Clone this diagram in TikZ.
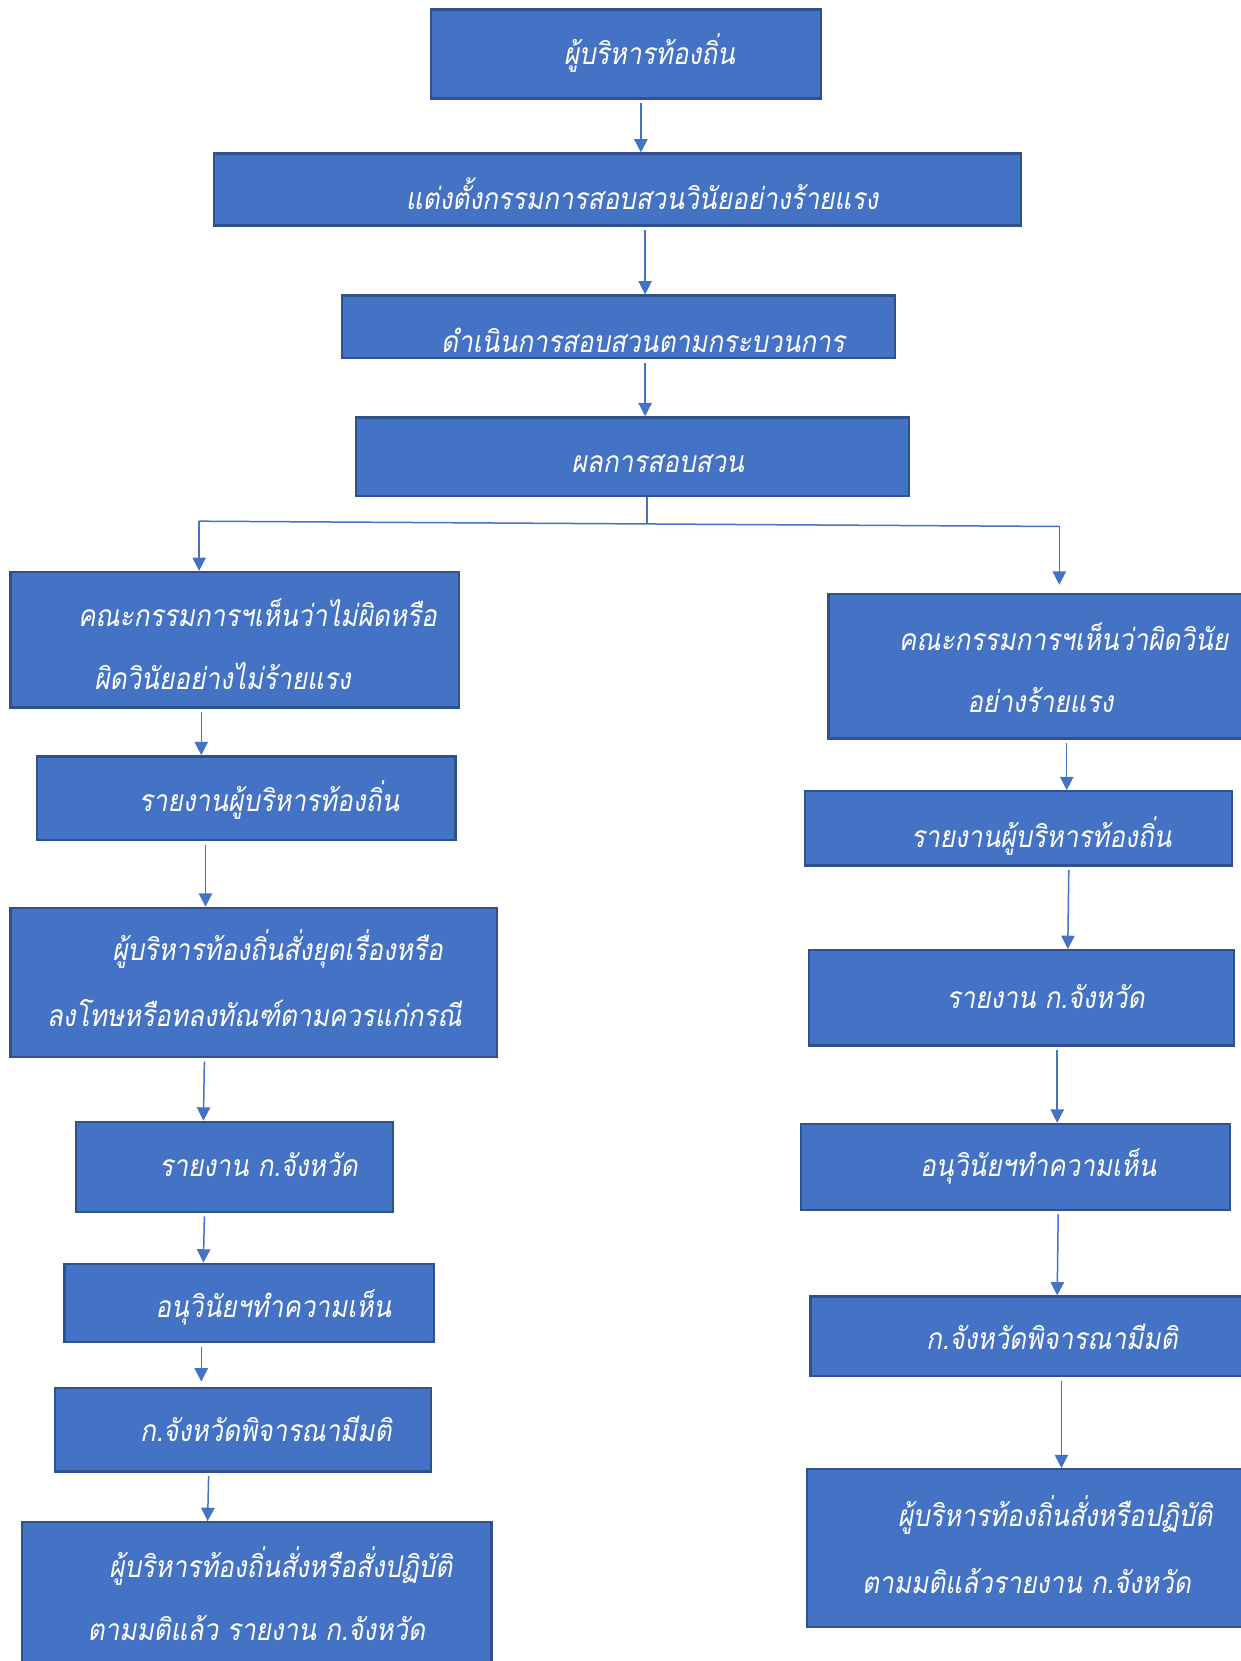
\documentclass[tikz,border=0pt]{standalone}
\usepackage{fontspec}
\newfontfamily\thaifont[Script=Thai,FakeSlant=0.18,FakeStretch=0.87]{Loma}
\usepackage{tikz}
\usetikzlibrary{arrows.meta}
\definecolor{boxfill}{HTML}{4472C4}
\definecolor{boxline}{HTML}{2F528F}

\begin{document}
\begin{tikzpicture}
[
                     x =  0.6353pt,
                     y = -0.6353pt,
     box/.style 2 args = { draw=boxline, fill=boxfill, line width=1.4pt, inner sep=0pt,
                           minimum width=#1*0.6353pt, minimum height=#2*0.6353pt },
               txt/.style = { text=white, anchor=base, inner sep=0pt,
                              font=\thaifont\fontsize{18}{22}\selectfont },
               arr/.style = { draw=boxfill, line width=0.9pt, -{Triangle[width=8pt,length=8pt]}, shorten <=2pt },
               lin/.style = { draw=boxfill, line width=0.9pt }
]

	\useasboundingbox (0,0) rectangle (1171,1568);

	% main column
	\node  (1) at (591  ,   51  ) [box={368}{84}]  {};	\node  (1l) at (613,   61) [txt] {ผู้บริหารท้องถิ่น};
	\node  (2) at (583  ,  179  ) [box={762}{68}]  {};	\node  (2l) at (606,  198) [txt] {แต่งตั้งกรรมการสอบสวนวินัยอย่างร้ายแรง};
	\node  (3) at (584  ,  308.5) [box={522}{59}]  {};	\node  (3l) at (607,  333) [txt] {ดำเนินการสอบสวนตามกระบวนการ};
	\node  (4) at (597  ,  431  ) [box={522}{74}]  {};	\node  (4l) at (621,  446) [txt] {ผลการสอบสวน};

	% left column
	\node  (5) at (221.5,  604  ) [box={423}{128}] {};	\node  (5l) at (243,  591) [txt] {คณะกรรมการฯเห็นว่าไม่ผิดหรือ};
	                                                  	\node (5l2) at (210,  651) [txt] {ผิดวินัยอย่างไม่ร้ายแรง};
	\node  (6) at (232.5,  753.5) [box={395}{79}]  {};	\node  (6l) at (254,  766) [txt] {รายงานผู้บริหารท้องถิ่น};
	\node  (7) at (239.5,  927.5) [box={459}{141}] {};	\node  (7l) at (262,  907) [txt] {ผู้บริหารท้องถิ่นสั่งยุตเรื่องหรือ};
	                                                  	\node (7l2) at (240,  969) [txt] {ลงโทษหรือทลงทัณฑ์ตามควรแก่กรณี};
	\node  (8) at (221.5, 1101.5) [box={299}{85}]  {};	\node  (8l) at (244, 1111) [txt] {รายงาน ก.จังหวัด};
	\node  (9) at (235.5, 1230  ) [box={349}{74}]  {};	\node  (9l) at (258, 1244) [txt] {อนุวินัยฯทำความเห็น};
	\node (10) at (229.5, 1349.5) [box={355}{79}]  {};	\node (10l) at (251, 1361) [txt] {ก.จังหวัดพิจารณามีมติ};
	\node (11) at (242.5, 1508.5) [box={443}{143}] {};	\node (11l) at (265, 1489) [txt] {ผู้บริหารท้องถิ่นสั่งหรือสั่งปฏิบัติ};
	                                                  	\node(11l2) at (242, 1549) [txt] {ตามมติแล้ว รายงาน ก.จังหวัด};

	% right column
	\node (12) at (981  ,  629  ) [box={398}{136}] {};	\node (12l) at (1004, 614) [txt] {คณะกรรมการฯเห็นว่าผิดวินัย};
	                                                  	\node(12l2) at (982,  673) [txt] {อย่างร้ายแรง};
	\node (13) at (961.5,  782  ) [box={403}{70}]  {};	\node (13l) at (983,  800) [txt] {รายงานผู้บริหารท้องถิ่น};
	\node (14) at (964.5,  942  ) [box={401}{90}]  {};	\node (14l) at (987,  952) [txt] {รายงาน ก.จังหวัด};
	\node (15) at (958.5, 1101.5) [box={405}{81}]  {};	\node (15l) at (980, 1111) [txt] {อนุวินัยฯทำความเห็น};
	\node (16) at (972.5, 1261.5) [box={415}{75}]  {};	\node (16l) at (993, 1274) [txt] {ก.จังหวัดพิจารณามีมติ};
	\node (17) at (971  , 1461.5) [box={418}{149}] {};	\node (17l) at (996, 1441) [txt] {ผู้บริหารท้องถิ่นสั่งหรือปฏิบัติ};
	                                                  	\node(17l2) at (969, 1504) [txt] {ตามมติแล้วรายงาน ก.จังหวัด};

	% branch
	\coordinate (jl) at (188 , 492  );
	\coordinate (jm) at (611 , 494.6);
	\coordinate (jr) at (1000, 497  );

	\draw[arr]  (1.south-|605,0) --  (2.north-|605,0);
	\draw[arr]  (2.south-|609,0) --  (3.north-|609,0);
	\draw[arr]  (3.south-|609,0) --  (4.north-|609,0);
	\draw[lin]  (4.south-|611,0) -- (jm);
	\draw[lin] (jl) -- (jr);
	\draw[arr, shorten <=0pt] (jl) -- (5.north-|188,0);
	\draw[arr, shorten <=0pt, shorten >=5pt] (jr) -- (12.north-|1000,0);

	\draw[arr]  (5.south-|190,0) --  (6.north-|190,0);
	\draw[arr]  (6.south-|194,0) --  (7.north-|194,0);
	\draw[arr]  (7.south-|193,0) --  (8.north-|192,0);
	\draw[arr]  (8.south-|193,0) --  (9.north-|192,0);
	\draw[arr, shorten >=3pt]  (9.south-|190,0) -- (10.north-|190,0);
	\draw[arr] (10.south-|197,0) -- (11.north-|196,0);

	\draw[arr] (12.south-|1007,0) -- (13.north-|1007,0);
	\draw[arr] (13.south-|1009,0) -- (14.north-|1008,0);
	\draw[arr] (14.south-|998,0)  -- (15.north-|998,0);
	\draw[arr] (15.south-|999,0)  -- (16.north-|998,0);
	\draw[arr] (16.south-|1002,0) -- (17.north-|1002,0);

\end{tikzpicture}
\end{document}
